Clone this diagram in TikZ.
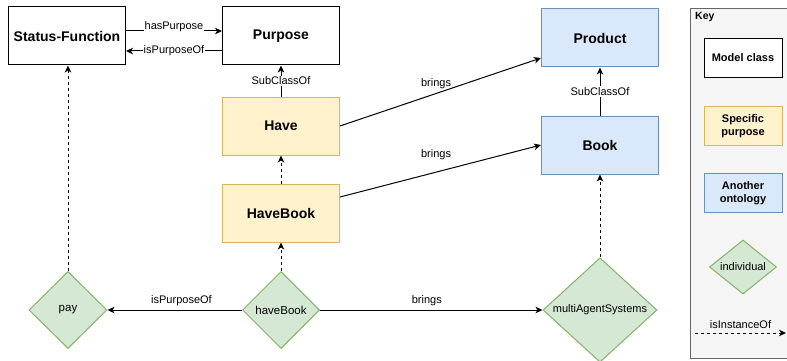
\documentclass[tikz,border=0pt]{standalone}
\usepackage{fontspec}
\setmainfont{Liberation Sans}
\usetikzlibrary{shapes.geometric,arrows.meta}

\definecolor{ylwfill}{HTML}{FFF2CC}
\definecolor{ylwline}{HTML}{D6B656}
\definecolor{bluefill}{HTML}{DAE8FC}
\definecolor{blueline}{HTML}{6C8EBF}
\definecolor{grnfill}{HTML}{D5E8D4}
\definecolor{grnline}{HTML}{82B366}
\definecolor{keyfill}{HTML}{F5F5F5}
\definecolor{keyline}{HTML}{666666}

\tikzset{
  x=1pt, y=-1pt,
  every node/.style={inner sep=1pt},
  classbox/.style={draw=black, fill=white, line width=1pt, minimum width=117pt, minimum height=58pt,
    font=\fontsize{14}{16}\selectfont\bfseries},
  purposebox/.style={classbox, draw=ylwline, fill=ylwfill},
  ontobox/.style={classbox, draw=blueline, fill=bluefill},
  indiv/.style={diamond, draw=grnline, fill=grnfill, line width=1pt, inner sep=0pt,
    font=\fontsize{11.5}{13}\selectfont},
  keybox/.style={draw=black, fill=white, line width=1pt, minimum width=78pt, minimum height=39pt,
    align=center, font=\fontsize{11}{13}\selectfont\bfseries},
  rel/.style={line width=1pt, -{Stealth[length=7pt,width=6.5pt,inset=2pt]}},
  inst/.style={rel, dash pattern=on 3pt off 3pt},
  lbl/.style={fill=white, inner sep=1pt, font=\fontsize{11}{13}\selectfont},
  freelbl/.style={inner sep=1pt, font=\fontsize{11}{13}\selectfont},
}

\begin{document}
\begin{tikzpicture}
\clip (0,0) rectangle (787,361);
\fill[white] (0,0) rectangle (787,361);

% key panel
\node[draw=keyline, fill=keyfill, line width=1pt, minimum width=120pt, minimum height=350pt,
  anchor=north west] (keypanel) at (690,8) {};
\node[anchor=west, font=\fontsize{10.5}{12}\selectfont\bfseries] (keytitle) at (694,17) {Key};
\node[keybox] (kmodel) at (743,58) {Model class};
\node[keybox, draw=ylwline, fill=ylwfill] (kspec) at (743,126) {Specific\\purpose};
\node[keybox, draw=blueline, fill=bluefill] (konto) at (743,193) {Another\\ontology};
\node[indiv, minimum width=67pt, minimum height=49pt, font=\fontsize{11}{13}\selectfont] (kind) at (743,267) {individual};
\coordinate (kl) at (695,333);
\coordinate (kr) at (786,333);
\draw[inst] (kl) -- node[freelbl, above=3pt] (kinstlbl) {isInstanceOf} (kr);

% classes
\node[classbox] (sf) at (67,36) {Status-Function};
\node[classbox] (pur) at (281,36) {Purpose};
\node[purposebox] (have) at (281,126) {Have};
\node[purposebox] (havebook) at (281,213) {HaveBook};
\node[ontobox] (prod) at (600,38) {Product};
\node[ontobox] (book) at (600,145) {Book};

% individuals
\node[indiv, minimum width=78pt, minimum height=77pt] (pay) at (68,310) {pay};
\node[indiv, minimum width=77pt, minimum height=77pt] (hb) at (281,310) {haveBook};
\node[indiv, minimum width=114pt, minimum height=96pt, font=\fontsize{11}{13}\selectfont] (mas) at (600,310) {multiAgentSystems};

% relations between classes
\draw[rel] ([yshift=5pt]sf.east) -- node[lbl, pos=0.5, yshift=4pt] (l1) {hasPurpose} ([yshift=5pt]pur.west);
\draw[rel] ([yshift=-15pt]pur.west) -- node[lbl, pos=0.5] (l2) {isPurposeOf} ([yshift=-15pt]sf.east);
\draw[rel] (have) -- node[lbl, pos=0.5] (l3) {SubClassOf} (pur);
\draw[rel] (book) -- node[lbl, pos=0.5] (l4) {SubClassOf} (prod);
\draw[rel] (have.east) -- node[freelbl, pos=0.478, yshift=10pt] (l5) {brings} ([yshift=-20pt]prod.west);
\draw[rel] ([yshift=16pt]havebook.east) -- node[freelbl, pos=0.478, yshift=17pt] (l6) {brings} (book.west);
\draw[inst] (havebook) -- (have);

% relations of individuals
\draw[rel] (hb) -- node[freelbl, pos=0.45, above=3pt] (l7) {isPurposeOf} (pay);
\draw[rel] (hb) -- node[freelbl, pos=0.48, above=3pt] (l8) {brings} (mas);
\draw[inst] (pay.north) -- (pay.north |- sf.south);
\draw[inst] (hb) -- (havebook);
\draw[inst] (mas) -- (book);
\end{tikzpicture}
\end{document}
